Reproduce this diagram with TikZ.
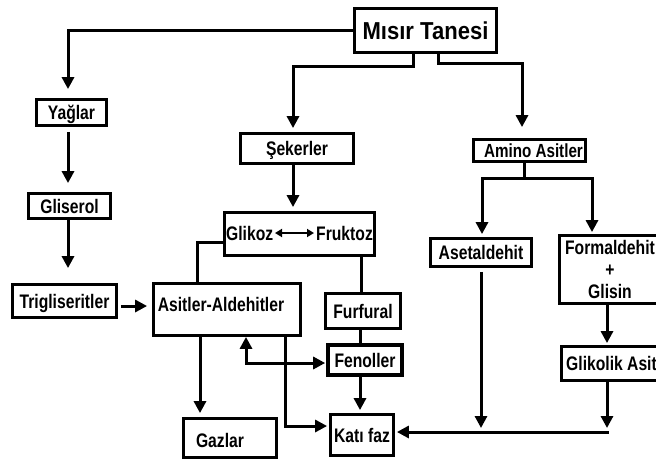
\documentclass[tikz,border=0pt]{standalone}
\usepackage{fontspec}
\setmainfont[FakeStretch=0.8]{Liberation Sans}
\newfontfamily\bigfam[FakeStretch=0.9]{Liberation Sans}
\usetikzlibrary{arrows.meta,calc}
\newcommand\lbl{\fontsize{19.6}{22}\selectfont\bfseries}
\newcommand\lblbig{\bigfam\fontsize{24.5}{28}\selectfont\bfseries}
\begin{document}
\begin{tikzpicture}[x=1pt,y=-1pt,
  box/.style={draw, line width=2.8pt, inner sep=0pt, font=\lbl},
  txt/.style={text height=14pt, text depth=0pt},
  ln/.style={line width=3pt},
  tip/.tip={Triangle[width=12pt,length=12pt]},
  arr/.style={ln, -tip},
  darr/.style={ln, tip-tip},
  small/.tip={Triangle[width=8pt,length=7pt]}]
\clip (0,0) rectangle (656,461);
\fill[white] (0,0) rectangle (656,461);
% nodes
\node[box,minimum width=142pt,minimum height=44pt,font=\lblbig,text height=17.5pt,text depth=0pt] (mt) at (425.5,30.5) {Mısır Tanesi};
\node[box,txt,minimum width=70pt,minimum height=26pt] (yag) at (71.5,112.5) {Yağlar};
\node[box,txt,minimum width=82pt,minimum height=25pt] (gli) at (69.5,206) {Gliserol};
\node[box,txt,minimum width=104pt,minimum height=33pt] (tri) at (64.5,301) {Trigliseritler};
\node[box,txt,minimum width=113pt,minimum height=30pt] (sek) at (297,148.5) {Şekerler};
\node[box,txt,minimum width=112pt,minimum height=22pt,font=\fontsize{19}{22}\selectfont\bfseries,text height=13.4pt] (amino) at (529.5,150.5) {\hspace*{8pt}Amino Asitler};
\node[box,txt,minimum width=150pt,minimum height=43pt] (glk) at (299.5,234) {\raisebox{1pt}{Glikoz\hspace*{43pt}Fruktoz}};
\node[box,txt,minimum width=147pt,minimum height=52pt] (asit) at (227,309.5) {\raisebox{5pt}{Asitler-Aldehitler\hspace*{12pt}}};
\node[box,txt,minimum width=93pt,minimum height=39pt] (gaz) at (230,438) {\raisebox{-2pt}{Gazlar\hspace*{20pt}}};
\node[box,txt,minimum width=75pt,minimum height=35pt] (fur) at (363,311) {Furfural};
\node[box,txt,line width=3.6pt,minimum width=74pt,minimum height=30pt] (fen) at (365,360) {Fenoller};
\node[box,txt,minimum width=63pt,minimum height=41pt] (kati) at (362,435) {Katı faz};
\node[box,txt,minimum width=101pt,minimum height=28pt] (aset) at (481,252.5) {Asetaldehit};
\node[box,align=center,minimum width=101pt,minimum height=68pt] (form) at (610,269.5) {Formaldehit\\+\\Glisin};
\node[box,txt,minimum width=100pt,minimum height=34pt] (glik) at (611.5,363.5) {Glikolik Asit};
% helper coordinates
\coordinate (yx) at ($(yag.north)+(-3.5,0)$);
\coordinate (ys) at ($(yag.south)+(-3.5,0)$);
\coordinate (gs) at ($(gli.south)+(-1.5,0)$);
\coordinate (te) at ($(tri.east)+(0,5)$);
\coordinate (ml) at ($(mt.south)+(-12.5,0)$);
\coordinate (mr) at ($(mt.south)+(12.5,0)$);
\coordinate (sn) at ($(sek.north)+(-4,0)$);
\coordinate (ss) at ($(sek.south)+(-4,0)$);
\coordinate (an) at ($(amino.north)+(-7.5,0)$);
\coordinate (as) at ($(amino.south)+(-5.5,0)$);
\coordinate (asp) at ($(as)+(0,16)$);
\coordinate (aen) at ($(aset.north)+(1,0)$);
\coordinate (fn) at ($(form.north)+(-18,0)$);
\coordinate (gw) at ($(glk.west)+(0,8)$);
\coordinate (an2) at ($(asit.north)+(-30,0)$);
\coordinate (gsf) at ($(glk.south)+(61.5,0)$);
\coordinate (fs) at ($(fur.south)+(-3,0)$);
\coordinate (fes) at ($(fen.south)+(-5,0)$);
\coordinate (ag) at ($(asit.south)+(-27,0)$);
\coordinate (af) at ($(asit.south)+(19,0)$);
\coordinate (fw) at ($(fen.west)+(0,3)$);
\coordinate (ak) at ($(asit.south)+(58,0)$);
\coordinate (kw) at ($(kati.west)+(0,-9)$);
\coordinate (gx) at ($(glik.south)+(-4.5,0)$);
\coordinate (ky) at ($(kati.east)+(0,-3)$);
\coordinate (kj) at (gx |- ky);
\coordinate (ax) at ($(aset.south)+(0,4)$);
\coordinate (fx) at ($(form.south)+(-3,0)$);
% connectors
\draw[arr,shorten >=9pt] (mt.west) -| (yx);
\draw[arr,shorten <=5pt,shorten >=9pt] (ys) -- (ys |- gli.north);
\draw[arr,shorten >=15pt] (gs) -- (gs |- tri.north);
\draw[arr,shorten <=3pt,shorten >=5pt] (te) -- (te -| asit.west);
\draw[arr,shorten >=4pt] (ml) -- ++(0,13) -| (sn);
\draw[arr,shorten >=11pt] (mr) -- ++(0,10) -| (an);
\draw[arr,shorten >=4pt] (ss) -- (ss |- glk.north);
\draw[ln] (as) -- (asp);
\draw[arr,shorten >=3pt] (asp) -| (aen);
\draw[arr,shorten >=2pt] (asp) -| (fn);
\draw[ln] (gw) -| (an2);
\draw[ln] (gsf) -- (gsf |- fur.north);
\draw[ln] (fs) -- (fs |- fen.north);
\draw[arr,shorten >=3pt] (fes) -- (fes |- kati.north);
\draw[arr,shorten >=4pt] (ag) -- (ag |- gaz.north);
\draw[darr,shorten >=1pt] (af) |- (fw);
\draw[arr,shorten >=2pt] (ak) |- (kw);
\draw[arr,shorten >=4pt] (ax) -- (ax |- kj);
\draw[arr,shorten >=2pt] (fx) -- (fx |- glik.north);
\draw[arr,shorten >=4pt] (gx) -- (kj);
\draw[arr,shorten >=2pt] ($(kj)+(1.5,0)$) -- (ky);
\draw[line width=2pt,small-small] ($(glk.center)+(-24.5,-1)$) -- ($(glk.center)+(14.5,-1)$);
\end{tikzpicture}
\end{document}
